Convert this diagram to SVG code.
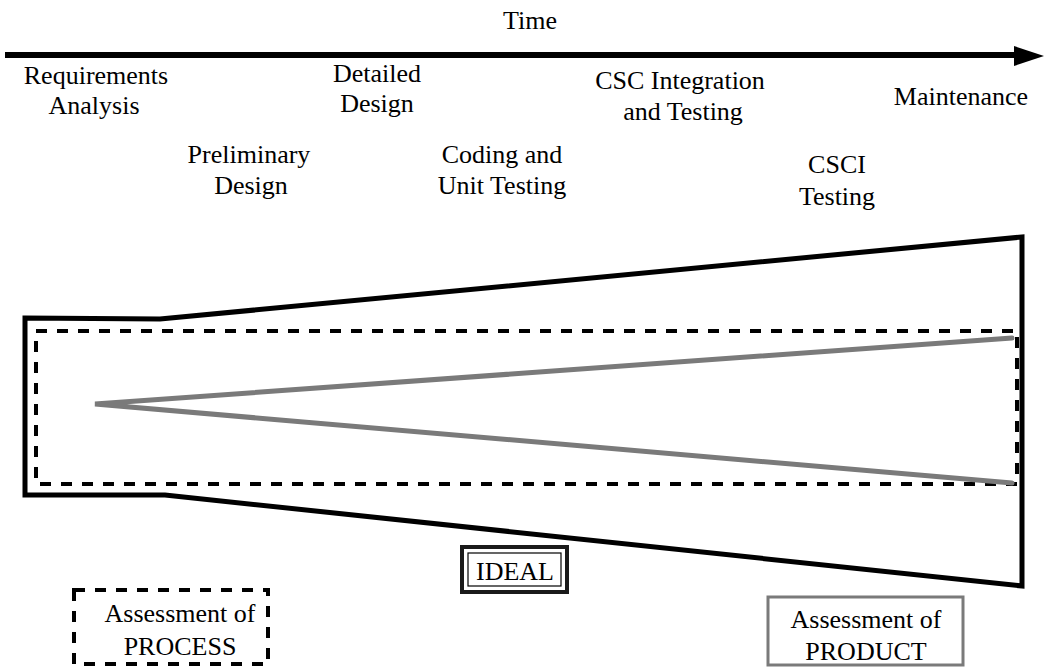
<svg xmlns="http://www.w3.org/2000/svg" width="1044" height="667" viewBox="0 0 1044 667">
<style>
  .t { font-size: 26px; fill: #000; text-anchor: middle; }
  .dash { fill: none; stroke: #000; stroke-width: 4; stroke-dasharray: 11 10; }
  .gray { fill: none; stroke: #7a7a7a; stroke-width: 5; stroke-linecap: round; }
</style>
<rect width="1044" height="667" fill="#fff"/>
<g id="connectors">
  <line x1="5" y1="55" x2="1018" y2="55" stroke="#000" stroke-width="6"/>
  <polygon points="1014,46 1044,56 1014,66" fill="#000"/>
</g>
<g font-family="'Liberation Serif', 'DejaVu Serif', serif">
<g id="time-label"><text class="t" x="530" y="29">Time</text></g>
<g id="phase-req"><text class="t" x="96" y="84">Requirements</text><text class="t" x="94" y="114">Analysis</text></g>
<g id="phase-prelim"><text class="t" x="249" y="163">Preliminary</text><text class="t" x="251" y="194">Design</text></g>
<g id="phase-detailed"><text class="t" x="377" y="82">Detailed</text><text class="t" x="377" y="112">Design</text></g>
<g id="phase-coding"><text class="t" x="502" y="163">Coding and</text><text class="t" x="502" y="194">Unit Testing</text></g>
<g id="phase-csc"><text class="t" x="680" y="89">CSC Integration</text><text class="t" x="683" y="120">and Testing</text></g>
<g id="phase-csci"><text class="t" x="837" y="173">CSCI</text><text class="t" x="837" y="205">Testing</text></g>
<g id="phase-maint"><text class="t" x="961" y="105">Maintenance</text></g>
<g id="outer-funnel">
  <polygon points="25,318 160,319 1022,237 1022,586 165,495 25,495" fill="none" stroke="#000" stroke-width="5" stroke-linejoin="miter"/>
</g>
<g id="process-region">
  <rect class="dash" x="36" y="331" width="981" height="153"/>
</g>
<g id="product-wedge">
  <polyline class="gray" points="1012,338 95,404 1012,483"/>
</g>
<g id="ideal">
  <rect x="462" y="547" width="105" height="45" fill="#fff" stroke="#1a1a1a" stroke-width="4"/>
  <rect x="468" y="553" width="93" height="33" fill="none" stroke="#000" stroke-width="1.2"/>
  <text class="t" x="515" y="580">IDEAL</text>
</g>
<g id="assess-process">
  <rect class="dash" x="74" y="590" width="194" height="74"/>
  <text class="t" x="180" y="622">Assessment of</text>
  <text class="t" x="180" y="655">PROCESS</text>
</g>
<g id="assess-product">
  <rect x="768" y="597" width="195" height="68" fill="none" stroke="#7a7a7a" stroke-width="3"/>
  <text class="t" x="866" y="628">Assessment of</text>
  <text class="t" x="866" y="660">PRODUCT</text>
</g>
</g>
</svg>
